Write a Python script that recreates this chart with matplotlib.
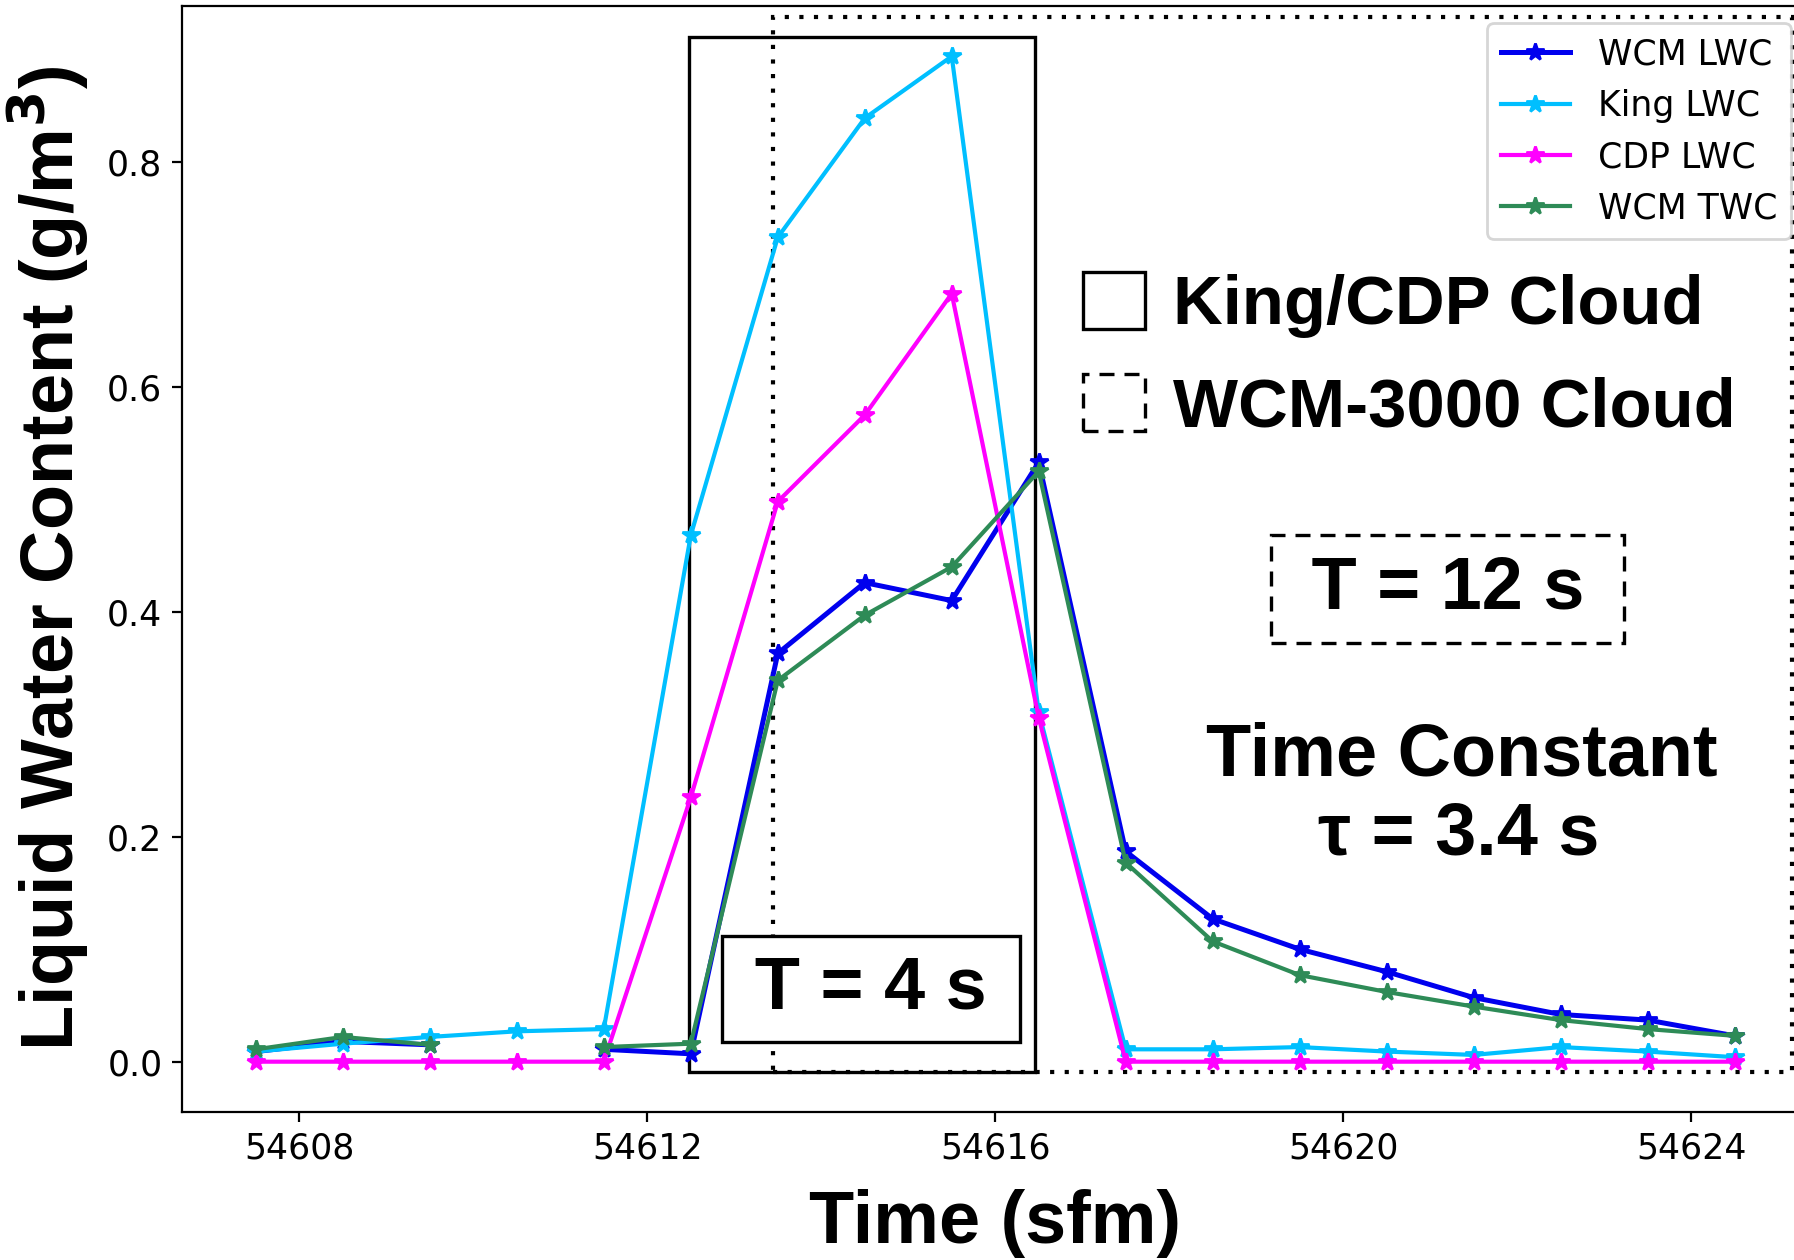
import matplotlib
matplotlib.use('Agg')
import matplotlib.pyplot as plt
import numpy as np
from matplotlib.patches import Rectangle, Patch

nan = np.nan

# ---- data ----
time_sfm = [54607.5, 54608.5, 54609.5, 54610.5, 54611.5, 54612.5, 54613.5, 54614.5, 54615.5,
            54616.5, 54617.5, 54618.5, 54619.5, 54620.5, 54621.5, 54622.5, 54623.5, 54624.5]
wcm_lwc = [0.009, 0.018, 0.015, nan, 0.011, 0.007, 0.363, 0.426, 0.410,
           0.533, 0.187, 0.127, 0.100, 0.080, 0.057, 0.042, 0.037, 0.023]
king_lwc = [0.009, 0.016, 0.022, 0.027, 0.029, 0.468, 0.733, 0.839, 0.894,
            0.311, 0.011, 0.011, 0.013, 0.009, 0.006, 0.013, 0.009, 0.004]
cdp_lwc = [0.0, 0.0, 0.0, 0.0, 0.0, 0.235, 0.498, 0.575, 0.683,
           0.306, 0.0, 0.0, 0.0, 0.0, 0.0, 0.0, 0.0, 0.0]
wcm_twc = [0.011, 0.022, 0.015, nan, 0.013, 0.016, 0.339, 0.397, 0.440,
           0.525, 0.177, 0.107, 0.077, 0.062, 0.049, 0.037, 0.029, 0.023]

series_labels = ['WCM LWC', 'King LWC', 'CDP LWC', 'WCM TWC']
series_colors = ['#0000ee', '#00bfff', '#ff00ff', '#2e8b57']

# cloud windows (start, end) in sfm
king_cdp_window = (54612.48, 54616.46)
wcm_window = (54613.44, 54625.16)

BOLD = dict(family=['Liberation Sans', 'DejaVu Sans'], weight='bold')

fig = plt.figure(figsize=(8.97, 6.3), dpi=200)
ax = fig.add_axes([0.1014, 0.1175, 0.9067, 0.8777])

series = [wcm_lwc, king_lwc, cdp_lwc, wcm_twc]
lws = [1.8, 1.5, 1.5, 1.5]
for vals, lab, col, lw in zip(series, series_labels, series_colors, lws):
    ax.plot(time_sfm, vals, '-*', color=col, label=lab, lw=lw, markersize=6.5)

# freeze limits to the data (default margins) before adding the window boxes
ax.set_xlim(ax.get_xlim())
ax.set_ylim(ax.get_ylim())

# cloud boxes
ax.add_patch(Rectangle((king_cdp_window[0], -0.0092), king_cdp_window[1] - king_cdp_window[0], 0.92,
                       fill=False, ec='black', lw=1.2, zorder=1))
ax.add_patch(Rectangle((wcm_window[0], -0.0092), wcm_window[1] - wcm_window[0], 0.938,
                       fill=False, ec='black', lw=1.5, ls=(0, (1, 2.5)), zorder=1))

ax.tick_params(labelsize=12.5)
ax.set_yticks([0.0, 0.2, 0.4, 0.6, 0.8])
ax.set_xticks([54608, 54612, 54616, 54620, 54624])
ax.set_xlabel('Time (sfm)', fontsize=26.6, labelpad=8.5, **BOLD)
ax.set_ylabel('Liquid Water Content (g/m$^\\mathbf{3}$)', fontsize=26.6, labelpad=6, **BOLD)

leg1 = ax.legend(loc='upper right', fontsize=12.5)
ax.add_artist(leg1)

handles = [Patch(fc='none', ec='black', lw=1.2),
           Patch(fc='none', ec='black', lw=1.2, ls=(0, (4.5, 3)))]
leg2 = ax.legend(handles, ['King/CDP Cloud', 'WCM-3000 Cloud'],
                 prop=dict(family=['Liberation Sans', 'DejaVu Sans'], weight='bold', size=24.8),
                 frameon=False, handlelength=0.9, handleheight=0.9, handletextpad=0.4,
                 labelspacing=0.52, borderpad=0, borderaxespad=0, loc='upper left',
                 bbox_to_anchor=(1083 / 1794, 1 - 272 / 1260), bbox_transform=fig.transFigure)

ax.text(54614.57, 0.065, '\u2009T = 4 s\u2009', ha='center', va='center', fontsize=26.6, zorder=4,
        bbox=dict(boxstyle='square,pad=0.25', fc='white', ec='black', lw=1.2), **BOLD)
ax.text(54621.20, 0.4205, ' T = 12 s ', ha='center', va='center', fontsize=26.6, zorder=4,
        bbox=dict(boxstyle='square,pad=0.26', fc='white', ec='black', lw=1.2, ls=(0, (4.5, 3))), **BOLD)
ax.text(54621.36, 0.2548, 'Time Constant', ha='center', va='baseline', fontsize=26.6, **BOLD)
ax.text(54621.33, 0.1838, 'τ = 3.4 s', ha='center', va='baseline', fontsize=26.6, **BOLD)

fig.savefig('out.png', dpi=200)
